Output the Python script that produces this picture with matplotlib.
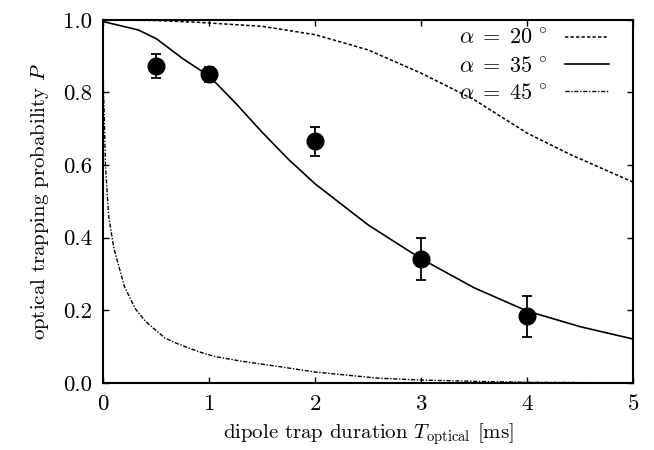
import matplotlib
matplotlib.use("Agg")

import matplotlib.pyplot as plt

plt.rcParams["font.family"] = "serif"
plt.rcParams["font.serif"] = ["cmr10", "DejaVu Serif"]
plt.rcParams["mathtext.fontset"] = "cm"
plt.rcParams["axes.formatter.use_mathtext"] = True

# measured points
t_meas = [0.5, 1.0, 2.0, 3.0, 4.0]
p_meas = [0.873, 0.850, 0.665, 0.342, 0.183]
p_err = [0.033, 0.020, 0.040, 0.058, 0.057]

# model curves
t_20 = [0, 0.5, 0.9, 1.5, 2.0, 2.5, 3.0, 3.5, 4.0, 4.4, 5.0]
p_20 = [1.0, 0.998, 0.993, 0.982, 0.959, 0.917, 0.853, 0.78, 0.688, 0.63, 0.553]

t_35 = [0, 0.33, 0.5, 0.75, 1.0, 1.25, 1.5, 1.75, 2.0, 2.5, 3.0, 3.5, 4.0, 4.5, 5.0]
p_35 = [0.995, 0.972, 0.948, 0.893, 0.845, 0.77, 0.69, 0.615, 0.548, 0.435,
        0.342, 0.262, 0.198, 0.155, 0.121]

t_45 = [0, 0.02, 0.05, 0.1, 0.2, 0.3, 0.4, 0.58, 0.7, 0.9, 1.05, 1.3, 1.66,
        2.0, 2.6, 3.0, 3.55, 4.0, 5.0]
p_45 = [0.83, 0.60, 0.46, 0.37, 0.265, 0.205, 0.169, 0.124, 0.108, 0.086,
        0.073, 0.06, 0.045, 0.03, 0.013, 0.008, 0.004, 0.002, 0.0]

labels = [r"$\alpha\;=\;20\,^\circ$", r"$\alpha\;=\;35\,^\circ$", r"$\alpha\;=\;45\,^\circ$"]

fig = plt.figure(figsize=(6.54, 4.5), dpi=100)
ax = fig.add_axes([0.158, 0.149, 0.810, 0.807])

ax.plot(t_20, p_20, color="black", lw=1.1, dashes=(2.2, 1.4), label=labels[0])
ax.plot(t_35, p_35, color="black", lw=1.2, label=labels[1])
ax.plot(t_45, p_45, color="black", lw=1.0, dashes=(3, 1.2, 1, 1.2), label=labels[2])

ax.errorbar(t_meas, p_meas, yerr=p_err, fmt="o", color="black", ms=12,
            elinewidth=1.3, capsize=3.5, capthick=1.3, zorder=5)

ax.set_xlim(0, 5)
ax.set_ylim(0, 1)
ax.set_xticks([0, 1, 2, 3, 4, 5])
ax.set_yticks([0, 0.2, 0.4, 0.6, 0.8, 1.0])
ax.set_yticklabels(["0.0", "0.2", "0.4", "0.6", "0.8", "1.0"])
ax.tick_params(direction="in", length=4.5, width=1.0, top=True, right=True,
               labelsize=16.5, pad=8)
for s in ax.spines.values():
    s.set_linewidth(1.5)

ax.set_xlabel(r"dipole trap duration $T_{\rm optical}$ [ms]", fontsize=15, labelpad=5)
ax.set_ylabel(r"optical trapping probability $P$", fontsize=15, labelpad=9)

ax.legend(loc="upper right", bbox_to_anchor=(0.955, 0.975), frameon=False,
          markerfirst=False, fontsize=16, handlelength=2.0, handletextpad=0.8,
          labelspacing=0.32, borderaxespad=0.0, borderpad=0.0)

fig.savefig("out.png", dpi=100)
